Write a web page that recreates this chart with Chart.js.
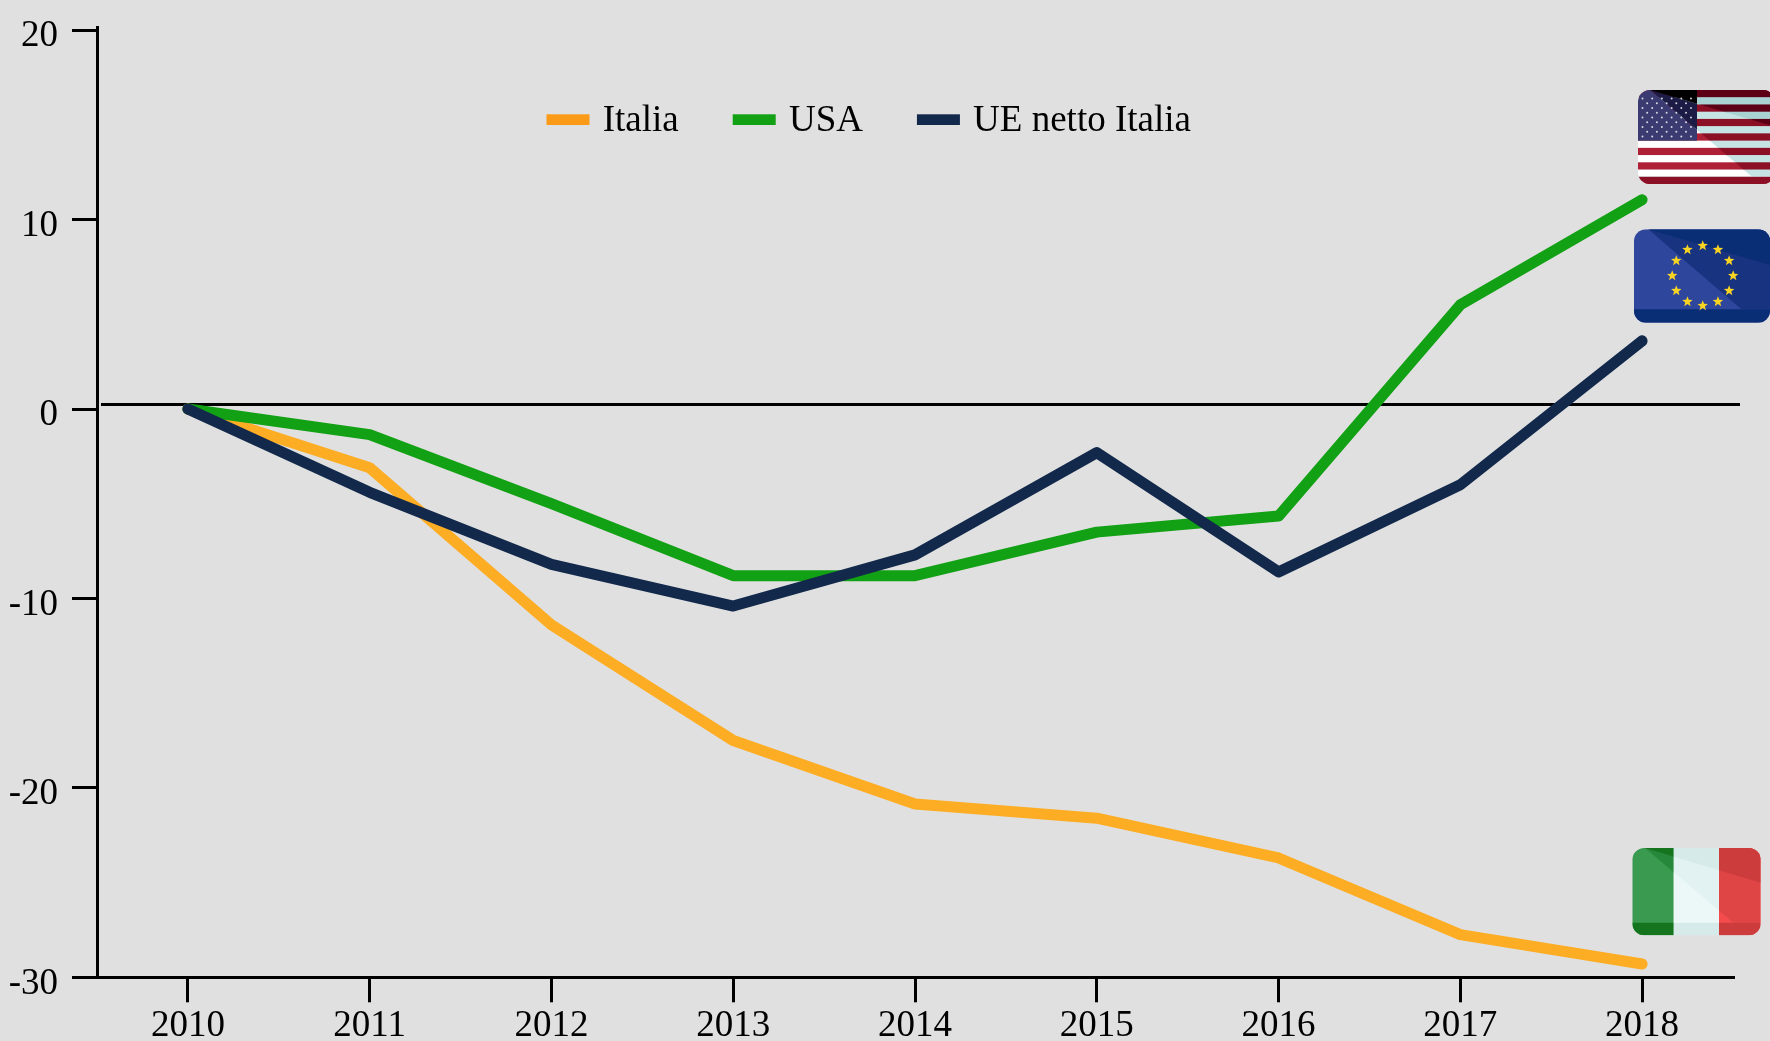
<!DOCTYPE html>
<html>
<head>
<meta charset="utf-8">
<title>Italia, USA, UE</title>
<script src="https://cdn.jsdelivr.net/npm/chart.js@4"></script>
<style>
    html, body { margin: 0; padding: 0; background: #e0e0e0; }
    canvas { display: block; }
</style>
</head>
<body>
<canvas id="graph-canvas" width="1770" height="1041"></canvas>
<script>
const years = ["2010","2011","2012","2013","2014","2015","2016","2017","2018"];
const italia = [0, -3.1, -11.4, -17.5, -20.85, -21.6, -23.7, -27.75, -29.3];
const usa = [0, -1.35, -5.0, -8.8, -8.8, -6.5, -5.65, 5.5, 11.05];
const ueNettoItalia = [0, -4.4, -8.2, -10.4, -7.7, -2.3, -8.6, -4.0, 3.6];

const fontName = '"Liberation Serif", serif';

// line across the chart, sits a little above the real zero in the original
const baselineValue = 0.24;

const legendColors = ['#fb9a17', '#12a014', '#12294b'];

// every flag has the same fold: base colour, darker facet, darkest facet
function facets(ctx, f, paint)
{
    ctx.save();
    ctx.beginPath();
    ctx.roundRect(f.x, f.y, f.w, f.h, 12);
    ctx.clip();

    paint(0);

    ctx.save();
    ctx.beginPath();
    ctx.moveTo(f.x + f.w * f.fold, f.y);
    ctx.lineTo(f.x + f.w, f.y);
    ctx.lineTo(f.x + f.w, f.y + f.h * f.strip);
    ctx.lineTo(f.x + f.w * f.end, f.y + f.h * f.strip);
    ctx.closePath();
    ctx.clip();
    paint(1);
    ctx.restore();

    ctx.save();
    ctx.beginPath();
    ctx.moveTo(f.x + f.w * f.fold, f.y);
    ctx.lineTo(f.x + f.w, f.y);
    ctx.lineTo(f.x + f.w, f.y + f.h * f.top);
    ctx.closePath();
    ctx.clip();
    paint(2);
    ctx.restore();

    ctx.save();
    ctx.beginPath();
    ctx.rect(f.x, f.y + f.h * f.strip, f.w, f.h);
    ctx.clip();
    paint(f.stripShade);
    ctx.restore();

    ctx.restore();
}

function star(ctx, cx, cy, r)
{
    ctx.beginPath();
    for (var i = 0; i < 10; i++)
    {
        var a = -Math.PI / 2 + i * Math.PI / 5;
        var d = i % 2 ? r * 0.42 : r;
        ctx.lineTo(cx + Math.cos(a) * d, cy + Math.sin(a) * d);
    }
    ctx.closePath();
    ctx.fill();
}

function drawUsa(ctx)
{
    const f = { x: 1638, y: 90, w: 137, h: 94, fold: 0.09, end: 0.83, strip: 0.92, top: 0.39, stripShade: 1 };
    const reds = ['#ae2035', '#8b1026', '#5c0016'];
    const whites = ['#ffffff', '#c6e4e4', '#a9d3d3'];
    const blues = ['#3b3b72', '#1b1b45', '#000000'];
    facets(ctx, f, function(s)
    {
        for (var i = 0; i < 13; i++)
        {
            ctx.fillStyle = i % 2 ? whites[s] : reds[s];
            ctx.fillRect(f.x, f.y + i * f.h / 13, f.w, f.h / 13 + 0.5);
        }
        ctx.fillStyle = blues[s];
        ctx.fillRect(f.x, f.y, 59, 50.7);
    });
    ctx.fillStyle = 'rgba(255,255,255,0.8)';
    for (var row = 0; row < 9; row++)
    {
        var count = row % 2 ? 5 : 6;
        for (var col = 0; col < count; col++)
        {
            ctx.beginPath();
            ctx.arc(1642.5 + (row % 2 ? 4.7 : 0) + col * 9.7, 98.5 + row * 4.75, 1, 0, Math.PI * 2);
            ctx.fill();
        }
    }
}

function drawEu(ctx)
{
    const f = { x: 1634, y: 229.3, w: 136, h: 93.4, fold: 0.105, end: 0.79, strip: 0.857, top: 0.382, stripShade: 2 };
    const blues = ['#2e469c', '#18337f', '#0a2e76'];
    facets(ctx, f, function(s)
    {
        ctx.fillStyle = blues[s];
        ctx.fillRect(f.x, f.y, f.w, f.h);
    });
    ctx.fillStyle = '#f9d423';
    for (var i = 0; i < 12; i++)
    {
        var a = i * Math.PI / 6;
        star(ctx, 1702.7 + Math.sin(a) * 30.5, 275.7 - Math.cos(a) * 30, 5.5);
    }
}

function drawItaly(ctx)
{
    const f = { x: 1632.3, y: 848, w: 128.4, h: 87.3, fold: 0.1, end: 0.787, strip: 0.855, top: 0.397, stripShade: 2 };
    const greens = ['#3a9a4f', '#25883a', '#15741e'];
    const whites = ['#ecf8f8', '#e2f2f2', '#d6ebe9'];
    const reds = ['#f44c4c', '#e04545', '#cc3c3c'];
    facets(ctx, f, function(s)
    {
        ctx.fillStyle = greens[s];
        ctx.fillRect(f.x, f.y, 41.4, f.h);
        ctx.fillStyle = whites[s];
        ctx.fillRect(f.x + 41.4, f.y, 45.3, f.h);
        ctx.fillStyle = reds[s];
        ctx.fillRect(f.x + 86.7, f.y, f.w - 86.7, f.h);
    });
}

const extras =
{
    id: 'extras',
    beforeDatasetsDraw(chart)
    {
        const c = chart.ctx;
        const y = chart.scales.y.getPixelForValue(baselineValue);
        c.save();
        c.strokeStyle = '#000';
        c.lineWidth = 3;
        c.beginPath();
        c.moveTo(chart.scales.x.left + 4, y);
        c.lineTo(chart.scales.x.right + 7, y);
        c.stroke();
        c.restore();
    },
    afterDraw(chart)
    {
        const c = chart.ctx;
        c.save();

        // legend, set inside the plot like the original
        c.font = '37px ' + fontName;
        c.textBaseline = 'alphabetic';
        var x = 546.5;
        chart.data.datasets.forEach(function(ds, i)
        {
            c.fillStyle = legendColors[i];
            c.fillRect(x, 114.3, 43, 10.7);
            c.fillStyle = '#000';
            c.fillText(ds.label, x + 56.2, 131);
            x += 56.2 + c.measureText(ds.label).width + 54;
        });

        drawUsa(c);
        drawEu(c);
        drawItaly(c);
        c.restore();
    }
};

const ctx = document.getElementById('graph-canvas');

var chart = new Chart(ctx,
    {
    type: 'line',
    data:
    {
        labels: years,
        datasets:
        [
            { label: 'Italia', data: italia, borderColor: '#fdad24', order: 2 },
            { label: 'USA', data: usa, borderColor: '#12a014', order: 1 },
            { label: 'UE netto Italia', data: ueNettoItalia, borderColor: '#12294b', order: 0 }
        ]
    },
    plugins: [extras],
    options:
    {
        responsive: false,
        animation: false,
        layout: { padding: { top: 27.7, right: 37, left: 0, bottom: 0 } },
        elements:
        {
            line: { borderWidth: 11, borderCapStyle: 'round', borderJoinStyle: 'round', tension: 0, fill: false },
            point: { radius: 0 }
        },
        plugins:
        {
            legend: { display: false },
            tooltip: { enabled: false }
        },
        scales:
        {
            x:
            {
                offset: true,
                afterFit(scale) { scale.height = 63.7; scale.paddingLeft = 0; scale.paddingRight = 0; },
                border: { color: '#000', width: 3 },
                grid: { drawOnChartArea: false, offset: false, color: '#000', lineWidth: 3, tickLength: 25 },
                ticks: { color: '#000', padding: 2, maxRotation: 0, autoSkip: false, font: { family: fontName, size: 37 } }
            },
            y:
            {
                min: -30,
                max: 20.13,
                afterFit(scale) { scale.width = 97; scale.paddingTop = 0; scale.paddingBottom = 0; },
                border: { color: '#000', width: 3 },
                grid: { drawOnChartArea: false, color: '#000', lineWidth: 3, tickLength: 25 },
                ticks: { stepSize: 10, includeBounds: false, color: '#000', padding: 14, labelOffset: 6.5, font: { family: fontName, size: 37 } }
            }
        }
    }
});
</script>
</body>
</html>
